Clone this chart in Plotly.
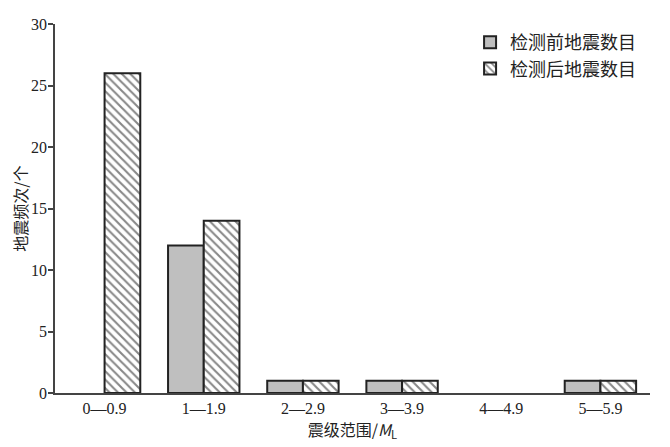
import plotly.graph_objects as go

categories = ["0—0.9", "1—1.9", "2—2.9", "3—3.9", "4—4.9", "5—5.9"]
before = [0, 12, 1, 1, 0, 1]
after = [26, 14, 1, 1, 0, 1]
series_names = ["检测前地震数目", "检测后地震数目"]

serif = "Liberation Serif, Times New Roman, serif"
cjk = "Noto Sans CJK SC"

def widths(vals):
    return [0 if v == 0 else 2 for v in vals]

gray_marker = dict(color="#bfbfbf", line=dict(color="#222222", width=2))
hatch = dict(shape="\\", fgcolor="#111111", bgcolor="white", size=6, solidity=0.35)
hatch_marker = dict(color="white", line=dict(color="#222222", width=2), pattern=hatch)

fig = go.Figure()
fig.add_trace(go.Bar(
    x=categories, y=before, name=series_names[0], offsetgroup="a", showlegend=False,
    marker=dict(color="#bfbfbf", line=dict(color="#222222", width=widths(before))),
))
fig.add_trace(go.Bar(
    x=categories, y=after, name=series_names[1], offsetgroup="b", showlegend=False,
    marker=dict(color="white", line=dict(color="#222222", width=widths(after)), pattern=hatch),
))
# legend entries
fig.add_trace(go.Bar(x=[categories[0]], y=[None], name=series_names[0],
                     offsetgroup="a", marker=gray_marker))
fig.add_trace(go.Bar(x=[categories[0]], y=[None], name=series_names[1],
                     offsetgroup="b", marker=hatch_marker))

# the page adds an 8px body margin, so the figure is 8px smaller
fig.update_layout(
    width=662, height=439,
    margin=dict(l=47, r=20, t=16, b=54),
    plot_bgcolor="white", paper_bgcolor="white",
    barmode="group", bargap=0.28, bargroupgap=0,
    font=dict(family=serif, size=16, color="#222222"),
    legend=dict(x=0.985, xanchor="right", y=1.0, yanchor="top",
                font=dict(family=cjk, size=18, color="#222222"),
                bgcolor="rgba(0,0,0,0)", tracegroupgap=0),
    showlegend=True,
)
fig.update_xaxes(
    type="category", range=[-0.5, 5.5], automargin=False,
    showline=True, linecolor="#444444", linewidth=1.5,
    ticks="", showgrid=False, zeroline=False,
    tickfont=dict(family=serif, size=16),
    title=dict(text="震级范围/<i>M</i><sub>L</sub>",
               font=dict(family=cjk, size=16), standoff=0),
)
fig.update_yaxes(
    range=[0, 30], dtick=5, automargin=False,
    showline=True, linecolor="#444444", linewidth=1.5,
    ticks="outside", ticklen=5, tickcolor="#444444", tickwidth=1.5,
    ticklabelstandoff=-2,
    showgrid=False, zeroline=False,
    tickfont=dict(family=serif, size=16),
    title=dict(text="地震频次/个", font=dict(family=cjk, size=16)),
)

fig.write_html("out.html")
